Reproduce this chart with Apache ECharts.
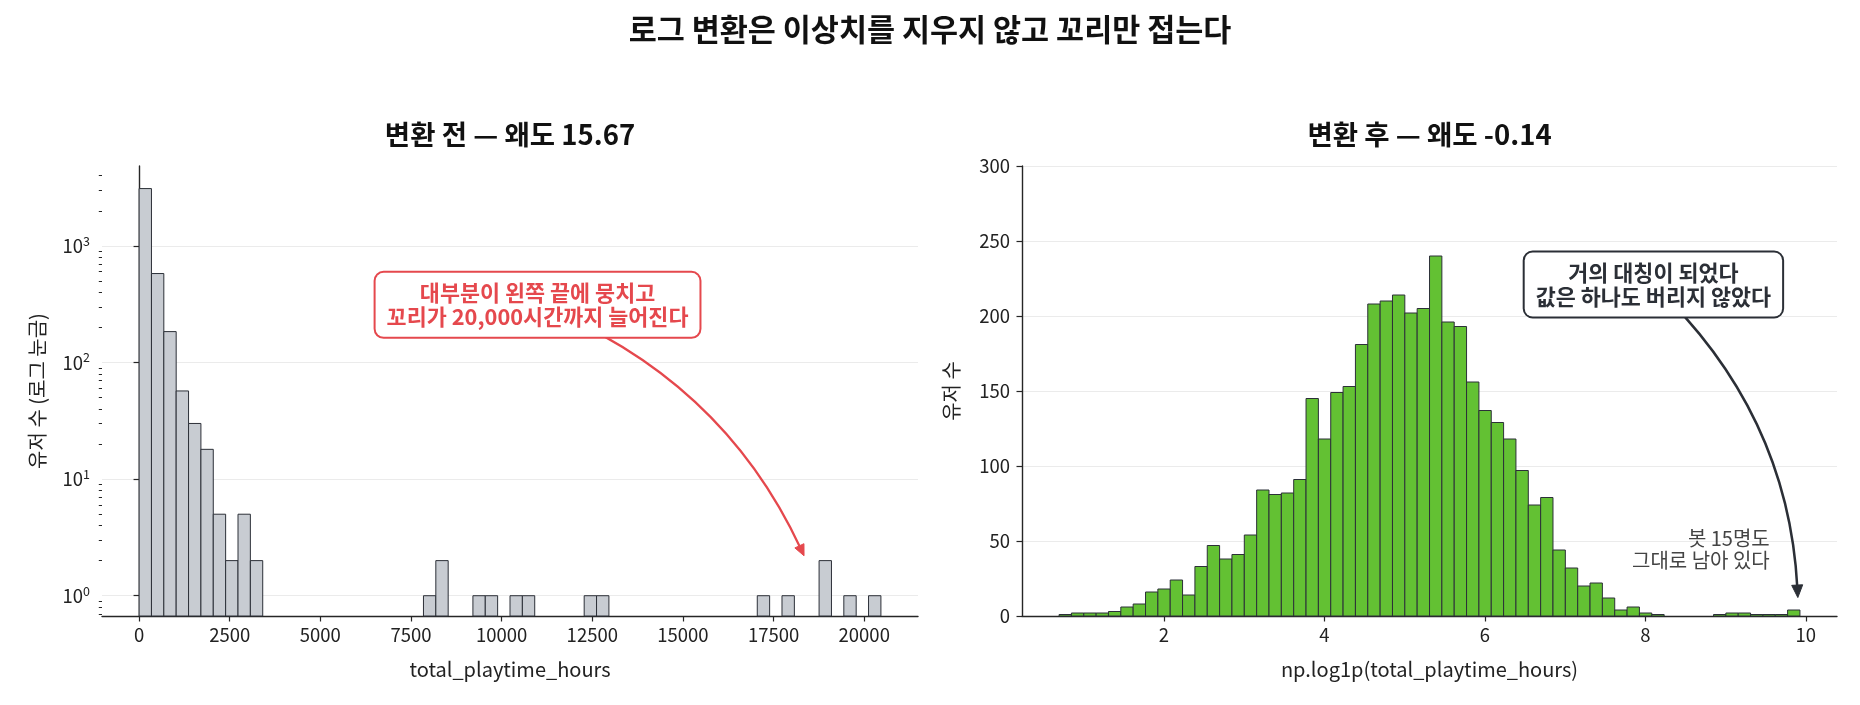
<!DOCTYPE html>
<html>
<head>
<meta charset="utf-8">
<script src="https://cdn.jsdelivr.net/npm/echarts@6/dist/echarts.min.js"></script>
<style>
  html, body { margin: 0; padding: 0; background: #fff; }
  #chart { width: 1860px; height: 705px; }
</style>
</head>
<body>
<div id="chart"></div>
<script>
// 原始值范围（小时），60 个等宽分箱
const rawMin = 1;
const rawMax = 20460;

// 变换前：每个分箱的用户数
const rawCounts = [
  3100, 579, 184, 57, 30, 18, 5, 2, 5, 2,
  0, 0, 0, 0, 0, 0, 0, 0, 0, 0,
  0, 0, 0, 1, 2, 0, 0, 1, 1, 0,
  1, 1, 0, 0, 0, 0, 1, 1, 0, 0,
  0, 0, 0, 0, 0, 0, 0, 0, 0, 0,
  1, 0, 1, 0, 0, 2, 0, 1, 0, 1
];

// 变换后：np.log1p 之后每个分箱的用户数
const logCounts = [
  1, 2, 2, 2, 3, 6, 8, 16, 18, 24,
  14, 33, 47, 38, 41, 54, 84, 81, 82, 91,
  145, 118, 149, 153, 181, 208, 210, 214, 202, 205,
  240, 196, 193, 156, 137, 129, 118, 97, 74, 79,
  44, 32, 20, 22, 12, 4, 6, 2, 1, 0,
  0, 0, 0, 1, 2, 2, 1, 1, 1, 4
];

// 刻度
const leftXTicks = [0, 2500, 5000, 7500, 10000, 12500, 15000, 17500, 20000];
const leftYTicks = [1, 10, 100, 1000];
const leftYMinor = [0.7, 0.8, 0.9, 2, 3, 4, 5, 6, 7, 8, 9, 20, 30, 40, 50, 60, 70, 80, 90,
  200, 300, 400, 500, 600, 700, 800, 900, 2000, 3000, 4000];
const rightXTicks = [2, 4, 6, 8, 10];

const suptitle = '로그 변환은 이상치를 지우지 않고 꼬리만 접는다';
const titleLeft = '변환 전 — 왜도 15.67';
const titleRight = '변환 후 — 왜도 -0.14';
const noteLeft = '대부분이 왼쪽 끝에 뭉치고\n꼬리가 20,000시간까지 늘어진다';
const noteRight = '거의 대칭이 되었다\n값은 하나도 버리지 않았다';
const noteBots = '봇 15명도\n그대로 남아 있다';

const FONT = "'Noto Sans CJK KR', 'Noto Sans', sans-serif";
const AXIS = '#262626';
const LOG_MIN = 0.67;

function makeBins(lo, hi, counts) {
  const w = (hi - lo) / counts.length;
  const out = [];
  counts.forEach((c, i) => {
    if (c > 0) out.push([lo + i * w, lo + (i + 1) * w, c]);
  });
  return out;
}

const leftBins = makeBins(rawMin, rawMax, rawCounts);
const rightBins = makeBins(Math.log1p(rawMin), Math.log1p(rawMax), logCounts);

function histRender(base, fill) {
  return function (params, api) {
    const a = api.coord([api.value(0), api.value(2)]);
    const b = api.coord([api.value(1), base]);
    return {
      type: 'rect',
      shape: { x: a[0], y: a[1], width: b[0] - a[0], height: b[1] - a[1] },
      style: { fill: fill, stroke: '#2c3038', lineWidth: 1 }
    };
  };
}

const tickLabel = { fontSize: 18.5, color: '#222', fontFamily: FONT };
const axisName = { fontSize: 20, color: '#222', fontFamily: FONT };

const chart = echarts.init(document.getElementById('chart'));

chart.setOption({
  animation: false,
  backgroundColor: '#fff',
  grid: [
    { left: 102, width: 816, top: 166, height: 450 },
    { left: 1022, width: 815, top: 166, height: 450 }
  ],
  xAxis: [
    {
      type: 'value', gridIndex: 0, min: -1022, max: 21483,
      name: 'total_playtime_hours', nameLocation: 'middle', nameGap: 43, nameTextStyle: axisName,
      axisLine: { onZero: false, lineStyle: { color: AXIS, width: 1.4 } },
      axisTick: { length: 5.5, customValues: leftXTicks, lineStyle: { color: AXIS, width: 1.2 } },
      axisLabel: Object.assign({ customValues: leftXTicks, margin: 10, formatter: v => String(v) }, tickLabel),
      splitLine: { show: false }
    },
    {
      type: 'value', gridIndex: 1, min: 0.231, max: 10.388,
      name: 'np.log1p(total_playtime_hours)', nameLocation: 'middle', nameGap: 43, nameTextStyle: axisName,
      axisLine: { onZero: false, lineStyle: { color: AXIS, width: 1.4 } },
      axisTick: { length: 5.5, customValues: rightXTicks, lineStyle: { color: AXIS, width: 1.2 } },
      axisLabel: Object.assign({ customValues: rightXTicks, margin: 10, formatter: v => String(v) }, tickLabel),
      splitLine: { show: false }
    }
  ],
  yAxis: [
    {
      type: 'log', logBase: 10, gridIndex: 0, position: 'left', min: LOG_MIN, max: 4840,
      name: '유저 수 (로그 눈금)', nameLocation: 'middle', nameGap: 55, nameTextStyle: axisName,
      axisLine: { show: true, lineStyle: { color: AXIS, width: 1.4 } },
      axisTick: { show: true, length: 5.5, customValues: leftYTicks, lineStyle: { color: AXIS, width: 1.2 } },
      axisLabel: {
        customValues: leftYTicks, margin: 12,
        formatter: v => '{b|10}{s|' + Math.round(Math.log10(v)) + '}',
        rich: {
          b: { fontSize: 18.5, color: '#222', fontFamily: FONT, lineHeight: 22 },
          s: { fontSize: 12.5, color: '#222', fontFamily: FONT, lineHeight: 13, verticalAlign: 'top' }
        }
      },
      splitLine: { show: true, lineStyle: { color: '#ebebeb', width: 1.2 } }
    },
    {
      // 只画对数副刻度
      type: 'log', logBase: 10, gridIndex: 0, position: 'left', min: LOG_MIN, max: 4840,
      axisLine: { show: false },
      axisTick: { show: true, length: 3.2, customValues: leftYMinor, lineStyle: { color: AXIS, width: 1 } },
      axisLabel: { show: false },
      splitLine: { show: false }
    },
    {
      type: 'value', gridIndex: 1, position: 'left', min: 0, max: 300, interval: 50,
      name: '유저 수', nameLocation: 'middle', nameGap: 61, nameTextStyle: axisName,
      axisLine: { show: true, lineStyle: { color: AXIS, width: 1.4 } },
      axisTick: { show: true, length: 5.5, lineStyle: { color: AXIS, width: 1.2 } },
      axisLabel: Object.assign({ margin: 12 }, tickLabel),
      splitLine: { show: true, lineStyle: { color: '#ebebeb', width: 1.2 } }
    }
  ],
  series: [
    {
      type: 'custom', xAxisIndex: 0, yAxisIndex: 0,
      data: leftBins, encode: { x: [0, 1], y: 2 },
      renderItem: histRender(LOG_MIN, '#c8ccd2')
    },
    {
      type: 'custom', xAxisIndex: 1, yAxisIndex: 2,
      data: rightBins, encode: { x: [0, 1], y: 2 },
      renderItem: histRender(0, '#63c133')
    }
  ]
});

// matplotlib 的 arc3 弧线箭头（屏幕坐标，y 向下）
function arrow(p0, p2, rad, color, lw, headLen, headHalf) {
  const mx = (p0[0] + p2[0]) / 2, my = (p0[1] + p2[1]) / 2;
  const dx = p2[0] - p0[0], dy = p2[1] - p0[1];
  const cx = mx - rad * dy, cy = my + rad * dx;
  let ux = p2[0] - cx, uy = p2[1] - cy;
  const len = Math.hypot(ux, uy);
  ux /= len; uy /= len;
  const bx = p2[0] - ux * headLen, by = p2[1] - uy * headLen;
  return [
    {
      type: 'bezierCurve', z: 100,
      shape: { x1: p0[0], y1: p0[1], x2: bx + ux * 3, y2: by + uy * 3, cpx1: cx, cpy1: cy },
      style: { stroke: color, lineWidth: lw, fill: null }
    },
    {
      type: 'polygon', z: 101,
      shape: { points: [[p2[0], p2[1]], [bx - uy * headHalf, by + ux * headHalf], [bx + uy * headHalf, by - ux * headHalf]] },
      style: { fill: color, stroke: color, lineWidth: 1 }
    }
  ];
}

function noteBox(p, text, color) {
  return {
    type: 'text', z: 110, x: p[0], y: p[1],
    style: {
      text: text, fill: color, fontSize: 21.8, fontWeight: 'bold', fontFamily: FONT,
      lineHeight: 24, align: 'center', verticalAlign: 'middle',
      backgroundColor: '#fff', borderColor: color, borderWidth: 2, borderRadius: 8,
      padding: [8, 11]
    }
  };
}

const L = v => chart.convertToPixel({ seriesIndex: 0 }, v);
const R = v => chart.convertToPixel({ seriesIndex: 1 }, v);

const leftText = L([10990, 312]);
const rightText = R([8.1, 221]);
const botsAt = R([9.55, 30]);

const graphics = [
  {
    type: 'text', x: 930, y: 29,
    style: { text: suptitle, fill: '#111', fontSize: 30.5, fontWeight: 'bold', fontFamily: FONT, align: 'center', verticalAlign: 'middle' }
  },
  {
    type: 'text', x: 510, y: 134.5,
    style: { text: titleLeft, fill: '#111', fontSize: 27.5, fontWeight: 'bold', fontFamily: FONT, align: 'center', verticalAlign: 'middle' }
  },
  {
    type: 'text', x: 1429.5, y: 134.5,
    style: { text: titleRight, fill: '#111', fontSize: 27.5, fontWeight: 'bold', fontFamily: FONT, align: 'center', verticalAlign: 'middle' }
  },
  {
    type: 'text', z: 100, x: botsAt[0], y: botsAt[1],
    style: { text: noteBots, fill: '#444', fontSize: 20, fontFamily: FONT, lineHeight: 21.5, align: 'right', verticalAlign: 'bottom' }
  }
]
  .concat(arrow(leftText, L([18340, 2.2]), -0.2, '#e5484d', 2.2, 11, 5))
  .concat(arrow(rightText, R([9.9, 12.3]), -0.2, '#2b2f36', 2.5, 12.5, 5.5))
  .concat([noteBox(leftText, noteLeft, '#e5484d'), noteBox(rightText, noteRight, '#2b2f36')]);

chart.setOption({ graphic: graphics });
</script>
</body>
</html>
